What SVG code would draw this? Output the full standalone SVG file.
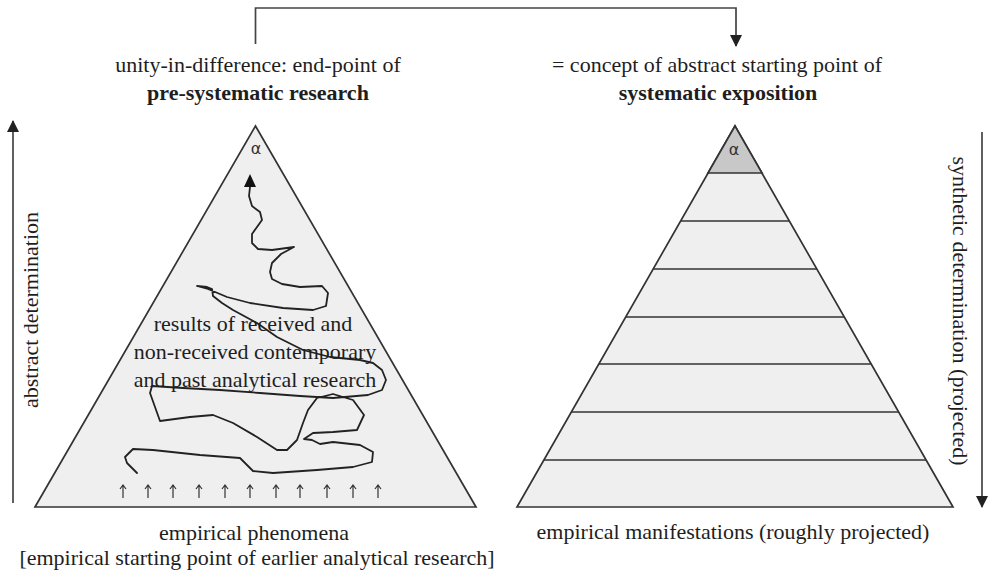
<svg xmlns="http://www.w3.org/2000/svg" width="991" height="575" viewBox="0 0 991 575">
<defs>
<style>
.t{font-family:"Liberation Serif",serif;font-size:22px;fill:#1e1e1e;text-anchor:middle}
.b{font-weight:bold}
.tri{fill:#efefef;stroke:#333;stroke-width:1.7;stroke-linejoin:miter}
.band{stroke:#333;stroke-width:1.7}
.alpha{font-family:"DejaVu Sans",sans-serif;font-size:16px;fill:#333;text-anchor:middle}
.conn{fill:none;stroke:#444;stroke-width:1.7}
.wig{fill:none;stroke:#222;stroke-width:1.8;stroke-linejoin:round;stroke-linecap:round}
.up{fill:none;stroke:#333;stroke-width:1.2}
</style>
<marker id="ah" viewBox="0 0 12 12" refX="11" refY="6" markerWidth="12" markerHeight="12" markerUnits="userSpaceOnUse" orient="auto">
<path d="M0,0 L12,6 L0,12 Z" fill="#222"/>
</marker>
</defs>
<rect width="991" height="575" fill="#fff"/>

<g id="left-triangle">
<polygon class="tri" points="255.5,126 35,507 476,507"/>
<text class="alpha" x="256" y="154">α</text>
<path class="wig" d="M250,187 L249,196 L252,206 L260,212 L262,220 L257,227 L252,234 L252,243 L258,249 L272,250 L294,247 L281,254 L272,263 L270,272 L272,279 L282,284 L300,287 L322,286 L328,293 L326,306 L313,310 L283,308 L250,303 L227,297 L208,289 L197,286 L207,287 L212,289 L213,296 L222,303 L233,310 L257,323 L277,337 L303,350 L330,357 L360,360 L373,363 L382,370 L386,380 L382,390 L368,395 L333,398 L300,396 L260,393 L220,390 L183,388 L152,386 L150,393 L155,407 L160,421 L190,417 L213,415 L233,423 L257,437 L277,450 L287,450 L297,440 L303,423 L308,410 L317,398 L333,394 L353,400 L364,415 L357,430 L333,432 L313,433 L304,439 L312,440 L320,444 L333,442 L360,445 L373,452 L372,462 L353,467 L317,470 L273,473 L253,471 L247,465 L240,458 L200,455 L153,450 L133,449 L125,457 L127,463 L137,473"/>
<polygon points="250,174 244,187 256,187" fill="#111"/>
<g id="base-arrows">
<path class="up" d="M123,498V485M120,489L123,485L126,489"/>
<path class="up" d="M148,498V485M145,489L148,485L151,489"/>
<path class="up" d="M173,498V485M170,489L173,485L176,489"/>
<path class="up" d="M199,498V485M196,489L199,485L202,489"/>
<path class="up" d="M225,498V485M222,489L225,485L228,489"/>
<path class="up" d="M250,498V485M247,489L250,485L253,489"/>
<path class="up" d="M276,498V485M273,489L276,485L279,489"/>
<path class="up" d="M300,498V485M297,489L300,485L303,489"/>
<path class="up" d="M327,498V485M324,489L327,485L330,489"/>
<path class="up" d="M353,498V485M350,489L353,485L356,489"/>
<path class="up" d="M378,498V485M375,489L378,485L381,489"/>
</g>
<text class="t" x="253" y="331">results of received and</text>
<text class="t" x="255" y="359">non-received contemporary</text>
<text class="t" x="255" y="387">and past analytical research</text>
</g>

<g id="right-triangle">
<polygon class="tri" points="735,126 517,507 953,507"/>
<polygon points="735,126 708,173 762,173" fill="#c8c8c8" stroke="#333" stroke-width="1.7"/>
<text class="alpha" x="734" y="155">α</text>
<line class="band" x1="681" y1="221" x2="789" y2="221"/>
<line class="band" x1="653" y1="269" x2="817" y2="269"/>
<line class="band" x1="626" y1="317" x2="844" y2="317"/>
<line class="band" x1="599" y1="364" x2="871" y2="364"/>
<line class="band" x1="571" y1="412" x2="899" y2="412"/>
<line class="band" x1="544" y1="460" x2="926" y2="460"/>
</g>

<g id="label-left-top">
<text class="t" x="258" y="72">unity-in-difference: end-point of</text>
<text class="t b" x="258" y="100">pre-systematic research</text>
</g>
<g id="label-right-top">
<text class="t" x="717" y="72">= concept of abstract starting point of</text>
<text class="t b" x="718" y="100">systematic exposition</text>
</g>
<g id="label-left-bottom">
<text class="t" x="254" y="540">empirical phenomena</text>
<text class="t" x="257" y="565">[empirical starting point of earlier analytical research]</text>
</g>
<g id="label-right-bottom">
<text class="t" x="733" y="539">empirical manifestations (roughly projected)</text>
</g>
<g id="label-abstract">
<text class="t" transform="translate(38,310) rotate(-90)">abstract determination</text>
</g>
<g id="label-synthetic">
<text class="t" transform="translate(953,311) rotate(90)">synthetic determination (projected)</text>
</g>

<g id="connectors">
<path class="conn" d="M255.5,44 V8 H736 V46" marker-end="url(#ah)"/>
<path class="conn" d="M13,503 V121" marker-end="url(#ah)"/>
<path class="conn" d="M982,132 V507" marker-end="url(#ah)"/>
</g>
</svg>
